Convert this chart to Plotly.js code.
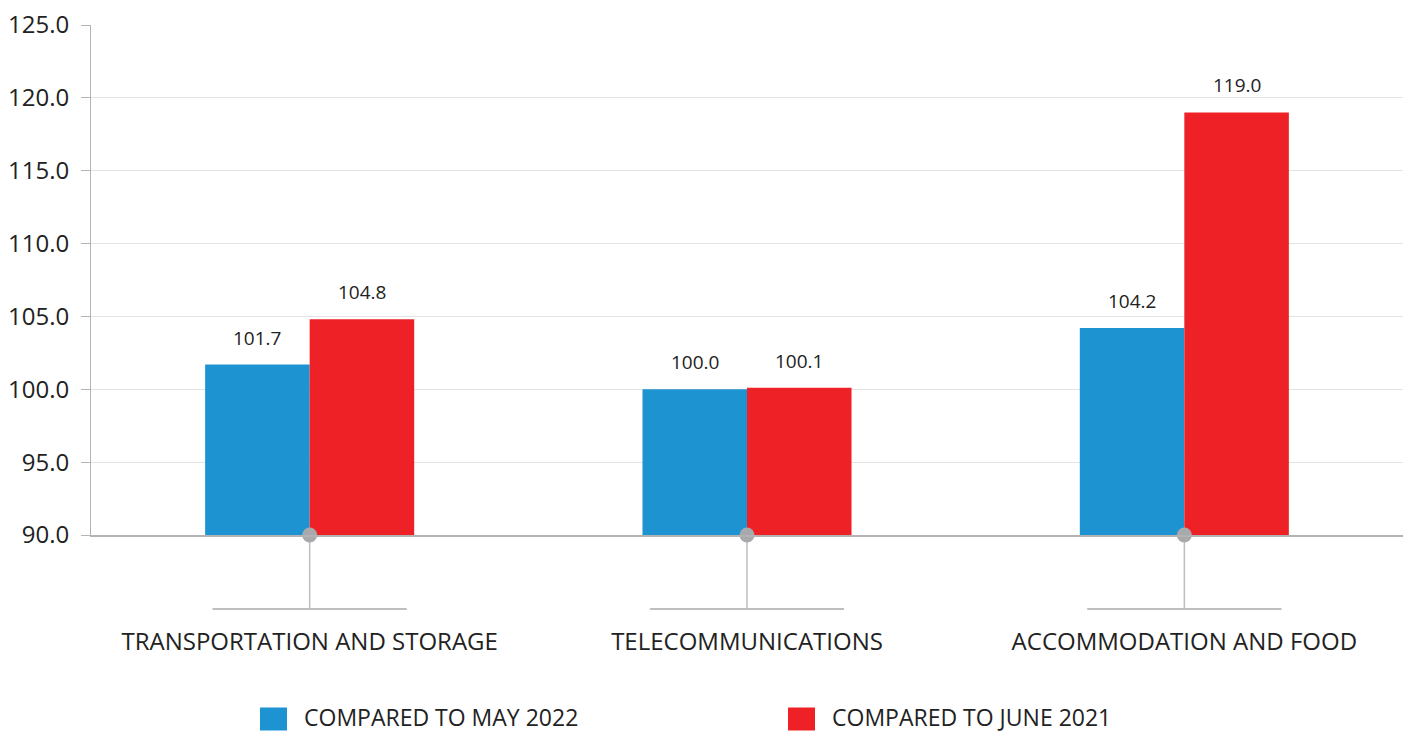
<!DOCTYPE html>
<html><head><meta charset="utf-8">
<script src="https://cdn.plot.ly/plotly-3.0.1.min.js"></script>
<style>html,body{margin:0;padding:0;background:#fff}#chart{width:1407px;height:736px}</style>
</head><body><div id="chart"></div>
<script>
const categories = ["TRANSPORTATION AND STORAGE", "TELECOMMUNICATIONS", "ACCOMMODATION AND FOOD"];
const seriesNames = ["COMPARED TO MAY 2022", "COMPARED TO JUNE 2021"];
const mayValues = [101.7, 100.0, 104.2];
const juneValues = [104.8, 100.1, 119.0];
const colors = ["#1e93d2", "#ee2226"];
const yTicks = [90, 95, 100, 105, 110, 115, 120, 125];
const yBase = 90;

const FONT = "Open Sans, sans-serif";
const barGap = 0.522;
const half = (1 - barGap) / 4;

const traces = [
  {type: 'bar', x: categories, y: mayValues.map(v => v - yBase), base: yBase, name: seriesNames[0],
   marker: {color: colors[0]}, showlegend: false, hoverinfo: 'skip'},
  {type: 'bar', x: categories, y: juneValues.map(v => v - yBase), base: yBase, name: seriesNames[1],
   marker: {color: colors[1]}, showlegend: false, hoverinfo: 'skip'},
  {type: 'scatter', mode: 'markers', x: categories, y: categories.map(() => yBase),
   marker: {color: '#a7a9ac', size: 15}, cliponaxis: false, showlegend: false, hoverinfo: 'skip'}
];

const annotations = [];
const shapes = [];
categories.forEach((c, i) => {
  annotations.push({x: i - half, y: mayValues[i], xref: 'x', yref: 'y', text: mayValues[i].toFixed(1),
    showarrow: false, yanchor: 'middle', yshift: 27, font: {family: FONT, size: 19, color: '#222'}});
  annotations.push({x: i + half, y: juneValues[i], xref: 'x', yref: 'y', text: juneValues[i].toFixed(1),
    showarrow: false, yanchor: 'middle', yshift: 27, font: {family: FONT, size: 19, color: '#222'}});
  shapes.push({type: 'line', xref: 'x', yref: 'paper', x0: i, x1: i, y0: 0, y1: -0.145, line: {color: '#bcbec0', width: 1.5}, layer: 'below'});
  shapes.push({type: 'line', xref: 'x', yref: 'paper', x0: i - 0.222, x1: i + 0.222, y0: -0.145, y1: -0.145, line: {color: '#bcbec0', width: 2}});
});

// custom legend
const legendX = [260, 788];
seriesNames.forEach((n, k) => {
  shapes.push({type: 'rect', xref: 'paper', yref: 'paper', xsizemode: 'pixel', ysizemode: 'pixel',
    xanchor: (legendX[k] - 91) / 1312, yanchor: (535 - 719) / 510,
    x0: 0, x1: 27, y0: -11.5, y1: 11.5, fillcolor: colors[k], line: {width: 0}});
  annotations.push({xref: 'paper', yref: 'paper', x: (legendX[k] + 42 - 91) / 1312, y: (535 - 735) / 510,
    xanchor: 'left', yanchor: 'bottom', text: n, showarrow: false, font: {family: FONT, size: 23, color: '#222'}});
});

const layout = {
  width: 1407, height: 736,
  margin: {l: 91, r: 4, t: 25, b: 201},
  paper_bgcolor: '#fff', plot_bgcolor: '#fff',
  barmode: 'group', bargap: barGap, bargroupgap: 0,
  font: {family: FONT, color: '#222'},
  xaxis: {type: 'category', tickfont: {family: FONT, size: 24, color: '#222'}, ticks: '', ticklabelstandoff: 84,
    showline: true, linecolor: '#b3b3b3', linewidth: 2, showgrid: false, zeroline: false, fixedrange: true},
  yaxis: {range: [90, 125], tickvals: yTicks, ticktext: yTicks.map(v => v.toFixed(1)),
    tickfont: {family: FONT, size: 24, color: '#222'}, ticks: 'outside', ticklen: 9, tickcolor: '#b3b3b3', tickwidth: 1,
    showline: true, linecolor: '#b3b3b3', linewidth: 1, showgrid: true, gridcolor: '#e3e3e3', gridwidth: 1,
    zeroline: false, ticklabelstandoff: 7, fixedrange: true},
  annotations, shapes,
  showlegend: false
};
Plotly.newPlot('chart', traces, layout, {displayModeBar: false, staticPlot: true});
</script></body></html>
